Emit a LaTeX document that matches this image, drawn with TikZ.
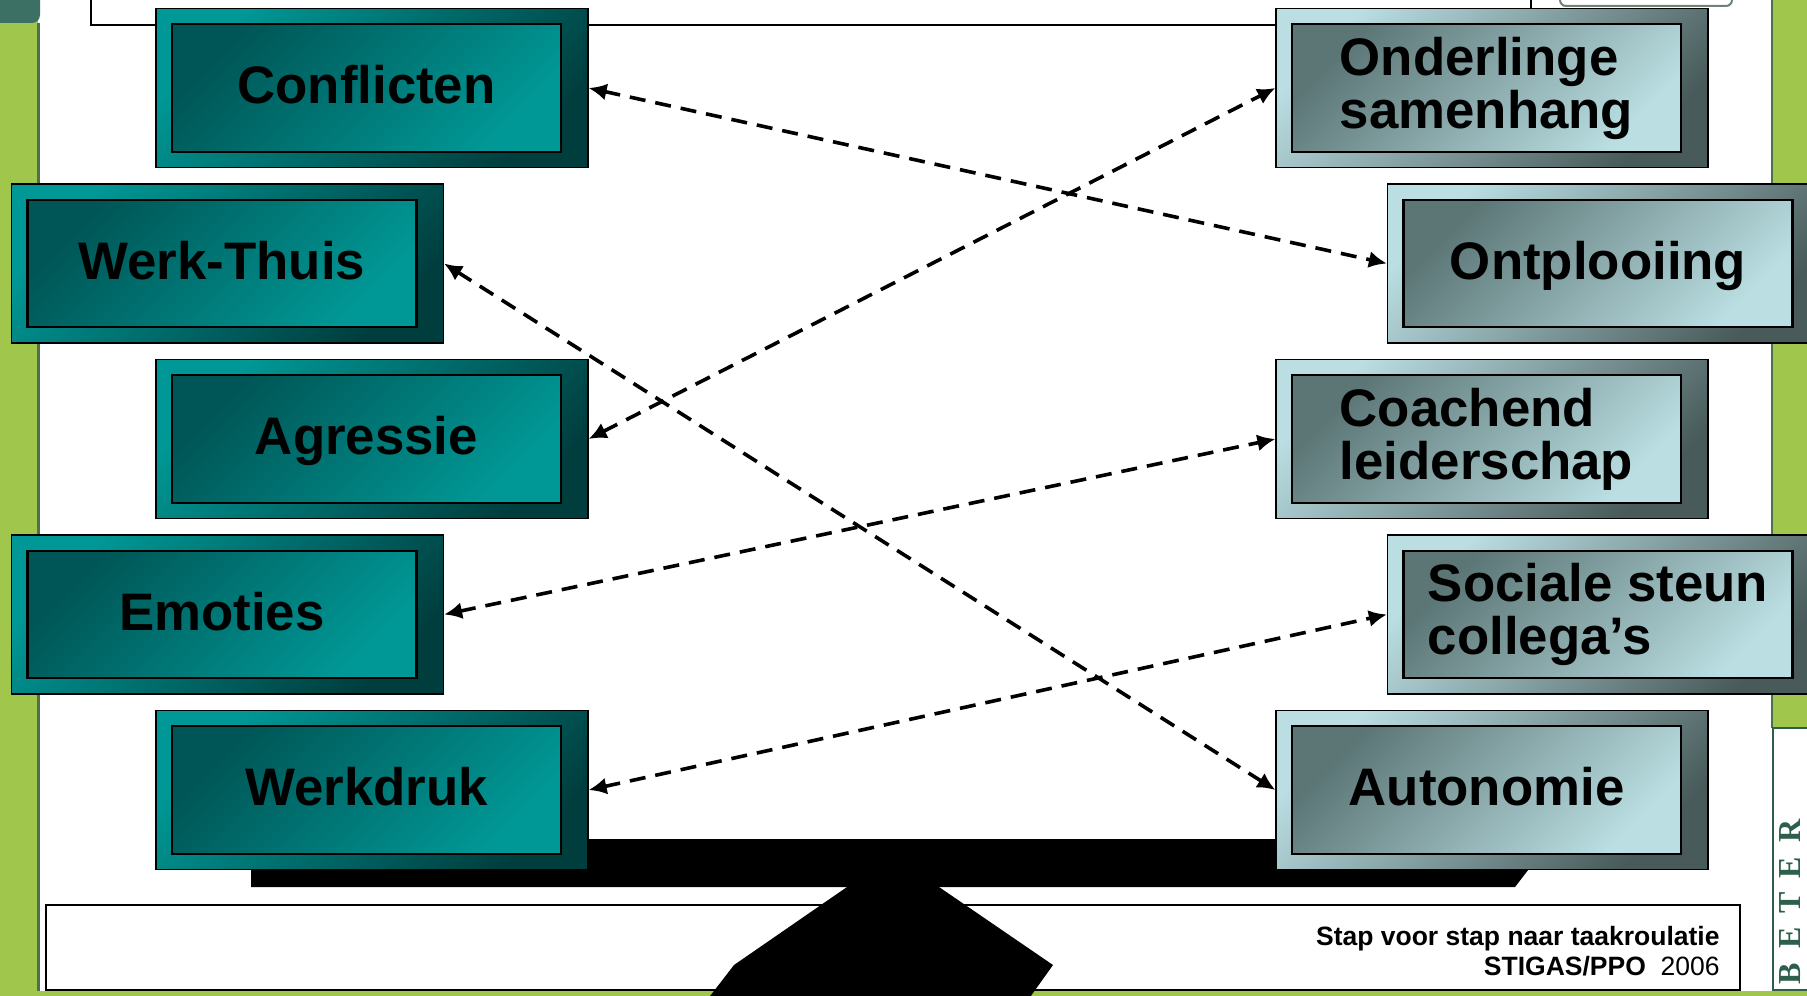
\documentclass[tikz,border=0pt]{standalone}
\usepackage{fontspec}
\setmainfont{Liberation Sans}
\newfontfamily\beterfont{Liberation Serif}
\usepackage{tikz}
\usetikzlibrary{arrows.meta, calc}

\definecolor{tealhi}{RGB}{0,152,150}
\definecolor{teallo}{RGB}{0,62,62}
\definecolor{tealin}{RGB}{0,86,86}
\definecolor{grayhi}{RGB}{186,222,226}
\definecolor{graylo}{RGB}{72,90,90}
\definecolor{grayin}{RGB}{92,118,118}
\definecolor{slidegreen}{RGB}{160,198,76}
\definecolor{edgegreen}{RGB}{78,112,78}
\definecolor{slideteal}{RGB}{60,112,100}
\definecolor{betergreen}{RGB}{45,95,75}
\definecolor{tabgray}{RGB}{110,130,118}

\newcommand{\factorfont}{\fontsize{26.4}{26.5}\selectfont\bfseries}
\newcommand{\footfont}{\fontsize{13.25}{15}\selectfont\bfseries}

\tikzset{
  outerbox/.style 2 args={draw=black, line width=0.6pt,
    top color=#1, bottom color=#2, shading angle=45,
    minimum width=216pt, minimum height=79.5pt, inner sep=0pt},
  innerbox/.style 2 args={draw=black, line width=1.1pt,
    top color=#1, bottom color=#2, shading angle=45,
    minimum width=194.5pt, minimum height=63.75pt, inner sep=0pt,
    align=left, font=\factorfont},
  oneline/.style={text height=19.3pt, text depth=3.6pt},
  twoline/.style={},
  link/.style={{Latex[length=9pt,width=8.5pt]}-{Latex[length=9pt,width=8.5pt]},
    line width=1.8pt, dash pattern=on 8pt off 5pt}
}

\begin{document}
\begin{tikzpicture}[x=0.5pt, y=-0.5pt]
\useasboundingbox (0,0) rectangle (1807,995);
% slide
\fill[white] (0,0) rectangle (1807,995);
\fill[slidegreen] (0,0) rectangle (38,995);
\draw[edgegreen, line width=1.2pt] (38.5,23) -- (38.5,995);
\fill[slideteal, rounded corners=4pt] (-10,-10) rectangle (40,23);
\fill[slidegreen] (1772,-5) rectangle (1815,728);
\draw[edgegreen, line width=1.2pt] (1772,0) -- (1772,728);
\draw[betergreen, line width=0.8pt] (1815,728) -- (1773,728) -- (1773,990) -- (1815,990);
\fill[slidegreen] (0,991) rectangle (1807,1000);
\draw[line width=0.7pt] (91,-5) rectangle (1531,25);
\draw[tabgray, line width=1pt, rounded corners=3pt] (1560,-20) rectangle (1732,6);
\draw[line width=0.7pt] (46,905) rectangle (1740,990);
\node[rotate=90, inner sep=0pt, text=betergreen, font=\beterfont\fontsize{16}{16}\selectfont\bfseries] (beter) at (1790,902)
  {B\hspace{7pt}E\hspace{7pt}T\hspace{7pt}E\hspace{7pt}R};

% seesaw
\fill (251,839) -- (1552,839) -- (1515,887) -- (251,887) -- cycle;
\fill (847,887) -- (939,887) -- (1053,965) -- (1028,1000) -- (707,1000) -- (734,965) -- cycle;

% factors
\foreach \nm/\x/\y/\sty/\txt in {conf/372/88/oneline/Conflicten, werk/227.5/263.5/oneline/Werk-Thuis,
  agre/372/439/oneline/Agressie, emot/227.5/614.5/oneline/Emoties, druk/372/790/oneline/Werkdruk}
{
  \node[outerbox={tealhi}{teallo}] (\nm) at (\x,\y) {};
  \node[innerbox={tealin}{tealhi}, \sty] (\nm-in) at ($(\nm)+(-5.5,0)$) {\txt};
}
\foreach \nm/\x/\y/\sty/\txt in {onde/1492/88/twoline/Onderlinge\\samenhang, ontp/1603.5/263.5/oneline/Ontplooiing,
  coach/1492/439/twoline/Coachend\\leiderschap, soc/1603.5/614.5/twoline/Sociale steun\\collega’s,
  auto/1492/790/oneline/Autonomie}
{
  \node[outerbox={grayhi}{graylo}] (\nm) at (\x,\y) {};
  \node[innerbox={grayin}{grayhi}, \sty] (\nm-in) at ($(\nm)+(-5.5,0)$) {\txt};
}

\draw[link] (conf.east) -- (ontp.west);
\draw[link] (werk.east) -- (auto.west);
\draw[link] (agre.east) -- (onde.west);
\draw[link] (emot.east) -- (coach.west);
\draw[link] (druk.east) -- (soc.west);

\node[anchor=north east, align=right, inner sep=0pt, font=\footfont] (foot) at (1720,925.5)
  {Stap voor stap naar taakroulatie\\STIGAS/PPO\ \ {\mdseries 2006}};
\end{tikzpicture}
\end{document}
